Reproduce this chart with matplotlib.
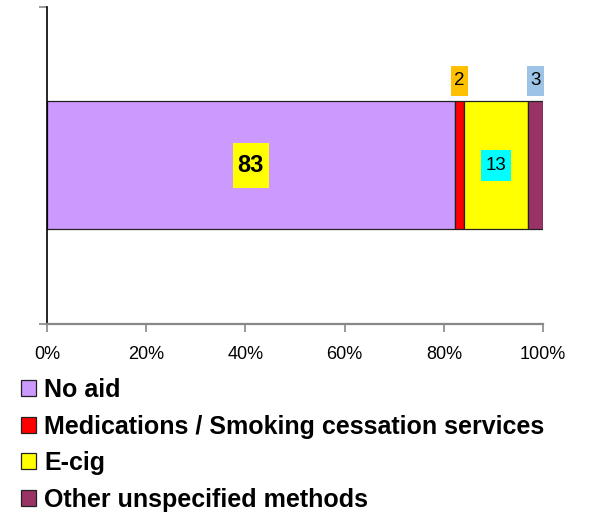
import numpy as np
import matplotlib
matplotlib.use('Agg')
import matplotlib.pyplot as plt
from matplotlib.path import Path

plt.rcParams['font.family'] = ['Liberation Sans', 'DejaVu Sans']

# quit attempt method shares (labels as reported, bar scaled to 100%)
methods = ['No aid', 'Medications / Smoking cessation services', 'E-cig', 'Other unspecified methods']
values = [83, 2, 13, 3]
colors = ['#CC99FF', '#FF0000', '#FFFF00', '#993366']
label_boxes = ['#FFFF00', '#FFC000', '#00FFFF', '#9DC3E6']
xticks = [0, 20, 40, 60, 80, 100]

vals = np.array(values, dtype=float)
pct = vals / vals.sum() * 100
lefts = np.concatenate([[0], np.cumsum(pct)[:-1]])


def label_box(padx, pady):
    # rectangle with separate horizontal / vertical padding (fractions of font size)
    def box(x0, y0, width, height, mutation_size):
        px, py = padx * mutation_size, pady * mutation_size
        x0, y0 = x0 - px, y0 - py
        x1, y1 = x0 + width + 2 * px, y0 + height + 2 * py
        return Path([(x0, y0), (x1, y0), (x1, y1), (x0, y1), (x0, y0)], closed=True)
    return box


fig = plt.figure(figsize=(5.9, 5.15), dpi=100)
ax = fig.add_axes([0.0797, 0.371, 0.8407, 0.6154])

for i in range(len(methods)):
    ax.barh(0, pct[i], left=lefts[i], height=0.404, color=colors[i],
            edgecolor='#222222', linewidth=0.9, label=methods[i])

for i, v in enumerate(values):
    cx = lefts[i] + pct[i] / 2
    if i == 0:
        ax.text(cx, 0, str(v), ha='center', va='center', fontsize=17, fontweight='bold',
                bbox=dict(boxstyle=label_box(0.21, 0.45), fc=label_boxes[i], ec='none'))
    elif pct[i] > 8:
        ax.text(cx, 0, str(v), ha='center', va='center', fontsize=13.5,
                bbox=dict(boxstyle=label_box(0.25, 0.36), fc=label_boxes[i], ec='none'))
    else:
        ax.text(cx, 0.267, str(v), ha='center', va='center', fontsize=13.5,
                bbox=dict(boxstyle=label_box(0.18, 0.35), fc=label_boxes[i], ec='none'))

ax.set_xlim(0, 100)
ax.set_ylim(-0.5, 0.5)
ax.set_xticks(xticks)
ax.set_xticklabels([f'{t}%' for t in xticks], fontsize=13)
ax.set_yticks([-0.5, 0.5])
ax.set_yticklabels([])
ax.tick_params(axis='x', direction='out', length=6, width=1.2, color='#888888', pad=10)
ax.tick_params(axis='y', direction='out', length=6, width=1.2, color='#888888')
ax.spines['top'].set_visible(False)
ax.spines['right'].set_visible(False)
ax.spines['left'].set_color('black')
ax.spines['left'].set_linewidth(1.2)
ax.spines['bottom'].set_color('#888888')
ax.spines['bottom'].set_linewidth(1.6)

leg = fig.legend(loc='upper left', bbox_to_anchor=(0.035, 0.266), frameon=False,
                 prop={'weight': 'bold', 'size': 18}, handlelength=0.6, handleheight=0.6,
                 handletextpad=0.35, labelspacing=0.5, borderaxespad=0, borderpad=0)

fig.savefig('out.png', dpi=100)
